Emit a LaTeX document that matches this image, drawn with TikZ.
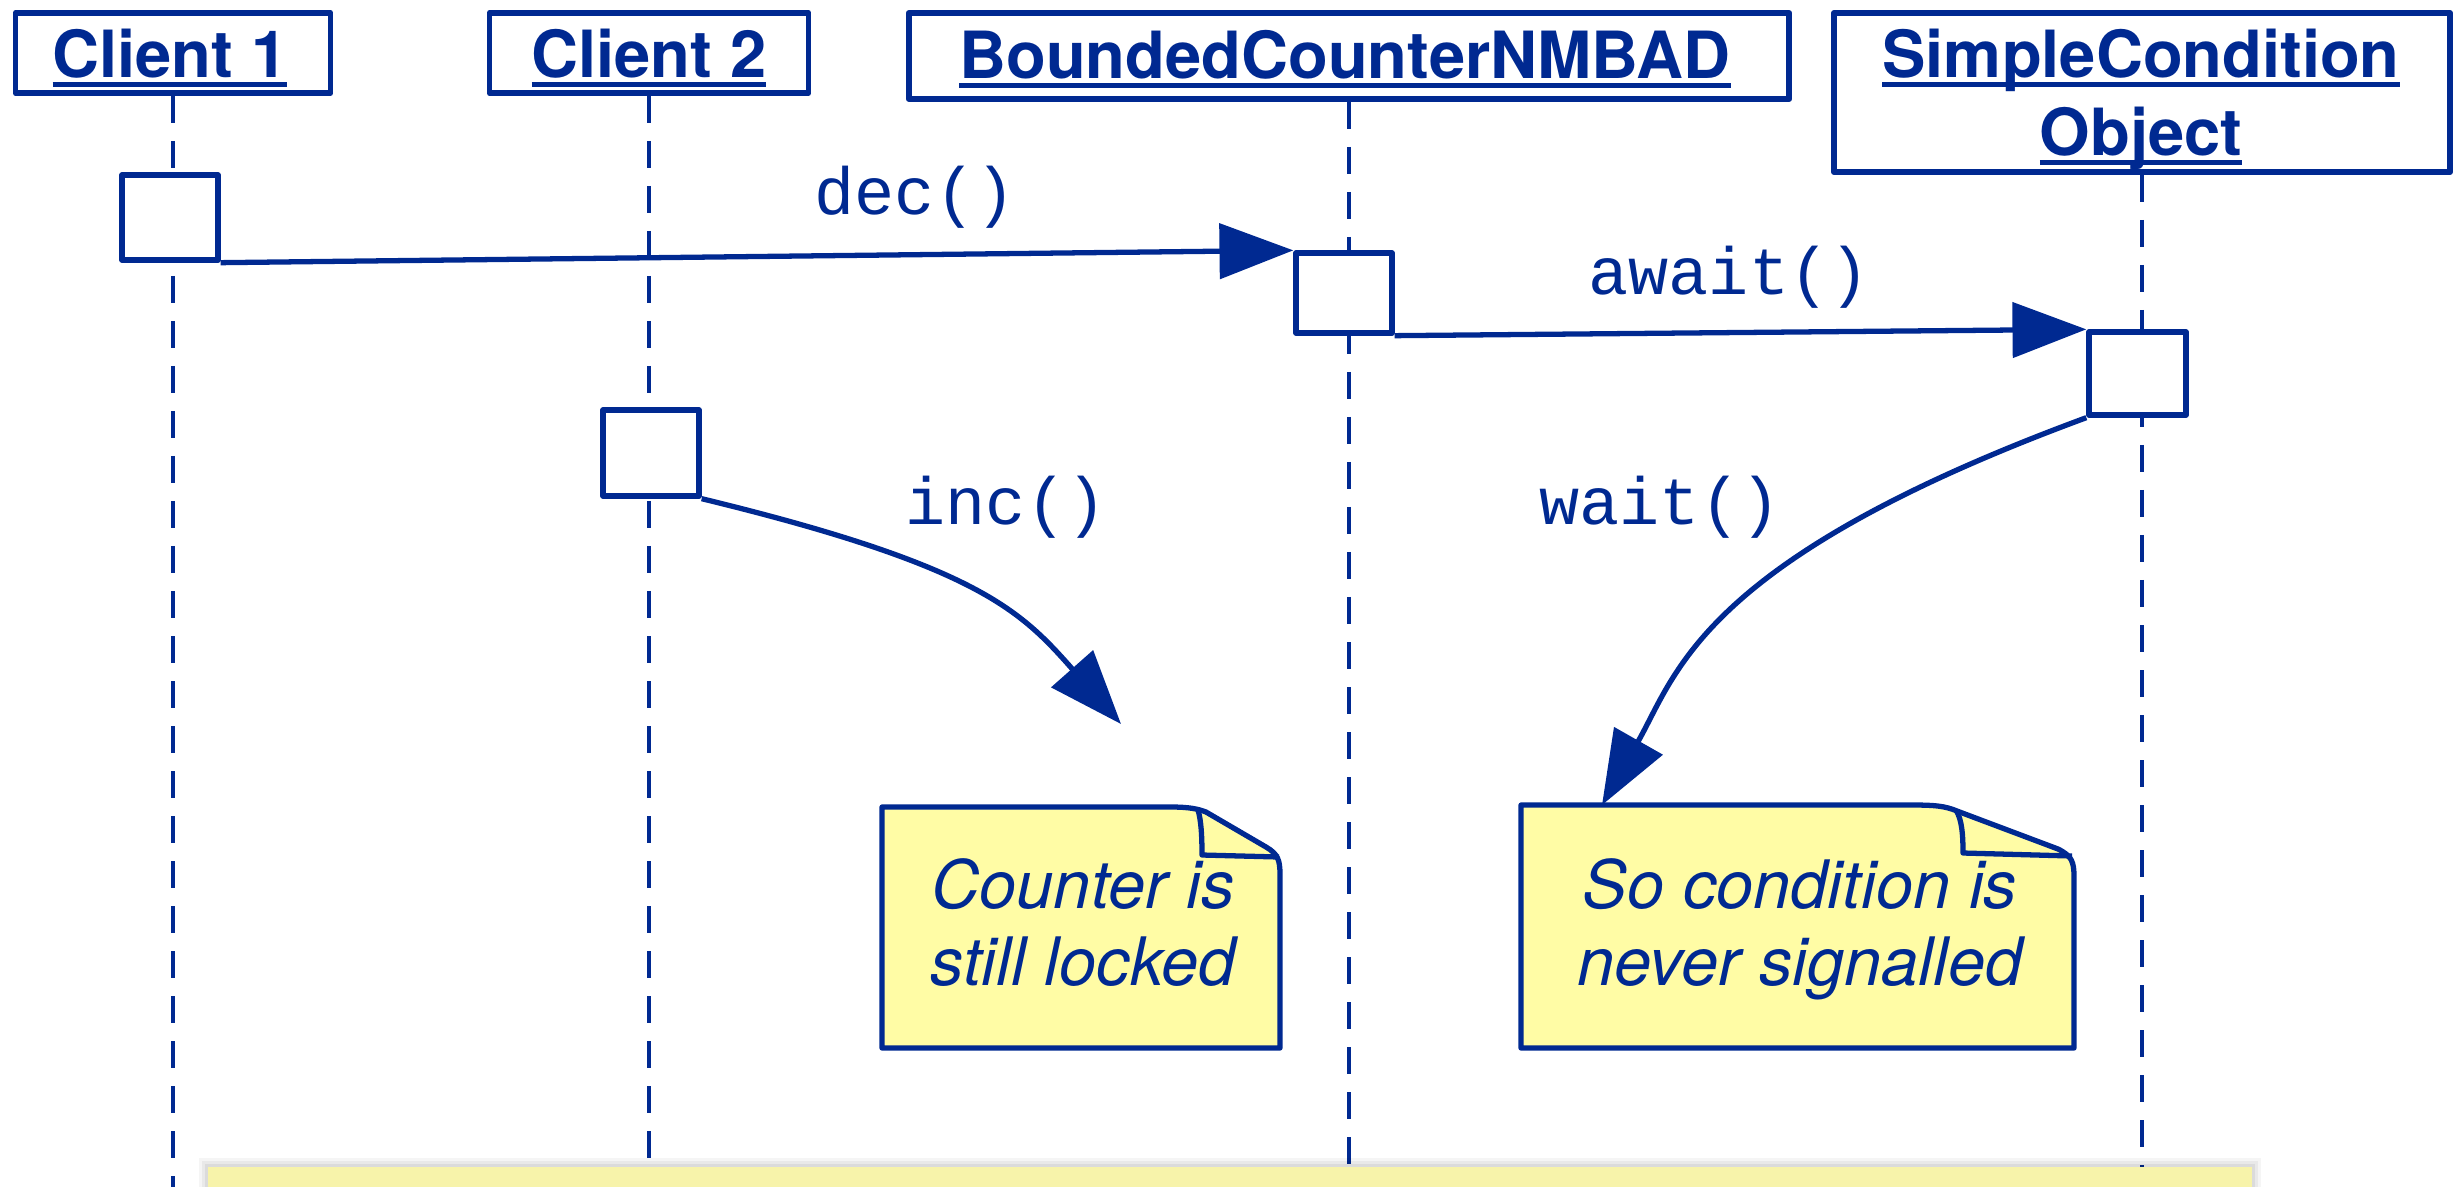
\documentclass[tikz,border=0pt]{standalone}
\usepackage{fontspec}
\setmainfont{TeX Gyre Heros}
\setmonofont{Liberation Mono}
\usetikzlibrary{arrows.meta}
\definecolor{umlblue}{RGB}{0,41,145}
\definecolor{notefill}{RGB}{255,252,165}
\definecolor{barfill}{RGB}{247,243,170}
\newcommand\ulhdr[1]{\setbox0\hbox{#1}\rlap{\rule[-2.85pt]{\wd0}{1.4pt}}\box0}
\begin{document}
\begin{tikzpicture}[x=0.01cm,y=-0.01cm,
  hdr/.style={draw=umlblue, line width=1.6pt, fill=white, inner sep=0pt, line join=round},
  hdrtext/.style={text=umlblue, inner sep=0pt, anchor=base, font=\fontsize{18.5pt}{22pt}\selectfont\bfseries},
  act/.style={draw=umlblue, line width=1.5pt, fill=white, inner sep=0pt, minimum width=0.96cm, line join=round},
  lifeline/.style={draw=umlblue, line width=1.3pt, dash pattern=on 7.7pt off 5.1pt},
  msg/.style={draw=umlblue, line width=1.5pt, -{Triangle[length=21pt,width=15.6pt]}},
  msgtext/.style={text=umlblue, inner sep=0pt, anchor=base, font=\fontsize{19pt}{22pt}\selectfont\ttfamily},
  notebox/.style={draw=umlblue, line width=1.5pt, fill=notefill, line join=round},
  notetext/.style={text=umlblue, inner sep=0pt, anchor=base, font=\fontsize{19pt}{22pt}\selectfont\itshape}
]
\useasboundingbox (0,0) rectangle (2457,1187);

% header boxes
\node[hdr, minimum width=3.15cm, minimum height=0.80cm] (c1) at (173,53) {};
\node[hdr, minimum width=3.19cm, minimum height=0.80cm] (c2) at (649,53) {};
\node[hdr, minimum width=8.80cm, minimum height=0.86cm] (bc) at (1349,56) {};
\node[hdr, minimum width=6.16cm, minimum height=1.59cm] (sco) at (2142,92.5) {};

% lifelines
\coordinate (c1end) at (173,1187);
\coordinate (c2end) at (649,1187);
\coordinate (bcend) at (1349,1187);
\coordinate (scoend) at (2142,1187);
\draw[lifeline] (c1.south) -- (c1end);
\draw[lifeline] (c2.south) -- (c2end);
\draw[lifeline] (bc.south) -- (bcend);
\draw[lifeline] (sco.south) -- (scoend);

% header texts
\node[hdrtext] (t1) at (170,77) {\ulhdr{Client 1}};
\node[hdrtext] (t2) at (649,77) {\ulhdr{Client 2}};
\node[hdrtext] (t3) at (1345,78) {\ulhdr{BoundedCounterNMBAD}};
\node[hdrtext] (t4a) at (2141,77) {\ulhdr{SimpleCondition}};
\node[hdrtext] (t4b) at (2141,155) {\ulhdr{Object}};

% activation boxes
\node[act, minimum height=0.85cm] (a1) at (170,217.5) {};
\node[act, minimum height=0.80cm] (a2) at (1344,293) {};
\node[act, minimum width=0.97cm, minimum height=0.83cm] (a3) at (2137.5,373.5) {};
\node[act, minimum height=0.86cm] (a4) at (651,453) {};

% notes
\path[notebox] (882,1048) -- (882,807) -- (1170,807)
  .. controls (1190,807) and (1198,809) .. (1206,812) -- (1266,847)
  .. controls (1278,854) and (1280,860) .. (1280,875) -- (1280,1048) -- cycle;
\draw[umlblue, line width=1.5pt, line join=round] (1198,810)
  .. controls (1201,820) and (1202,835) .. (1202,855) -- (1279,857);
\path[notebox] (1521,1048) -- (1521,805) -- (1911,805)
  .. controls (1935,805) and (1945,806) .. (1957,811) -- (2058,849)
  .. controls (2072,856) and (2074,862) .. (2074,877) -- (2074,1048) -- cycle;
\draw[umlblue, line width=1.5pt, line join=round] (1956,810)
  .. controls (1962,820) and (1963,835) .. (1963,853) -- (2072,856);

\coordinate (inctip) at (1121,724);
\coordinate (waittip) at (1602,805);

% messages
\draw[msg] (a1.south east) -- (a2.north west);
\draw[msg] (a2.south east) -- (a3.north west);
\draw[msg] (a4.south east) .. controls (979,566) and (1021,611) .. (inctip);
\draw[msg] (a3.south west) .. controls (1700,560) and (1677,673) .. (waittip);

% message labels
\node[msgtext] (ldec) at (915,214) {dec()};
\node[msgtext] (lawait) at (1729,294) {await()};
\node[msgtext] (linc) at (1006,524) {inc()};
\node[msgtext] (lwait) at (1660,524) {wait()};

% note texts
\node[notetext] (n1a) at (1083,908) {Counter is};
\node[notetext] (n1b) at (1083,985) {still locked};
\node[notetext] (n2a) at (1800,908) {So condition is};
\node[notetext] (n2b) at (1800,985) {never signalled};

% bottom bar with soft shadow
\fill[black,opacity=0.04] (199,1158) rectangle (2261,1187);
\fill[black,opacity=0.05] (202,1161) rectangle (2258,1187);
\fill[black,opacity=0.06] (205,1164) rectangle (2255,1187);
\fill[barfill] (208,1167) rectangle (2252,1187);
\end{tikzpicture}
\end{document}
